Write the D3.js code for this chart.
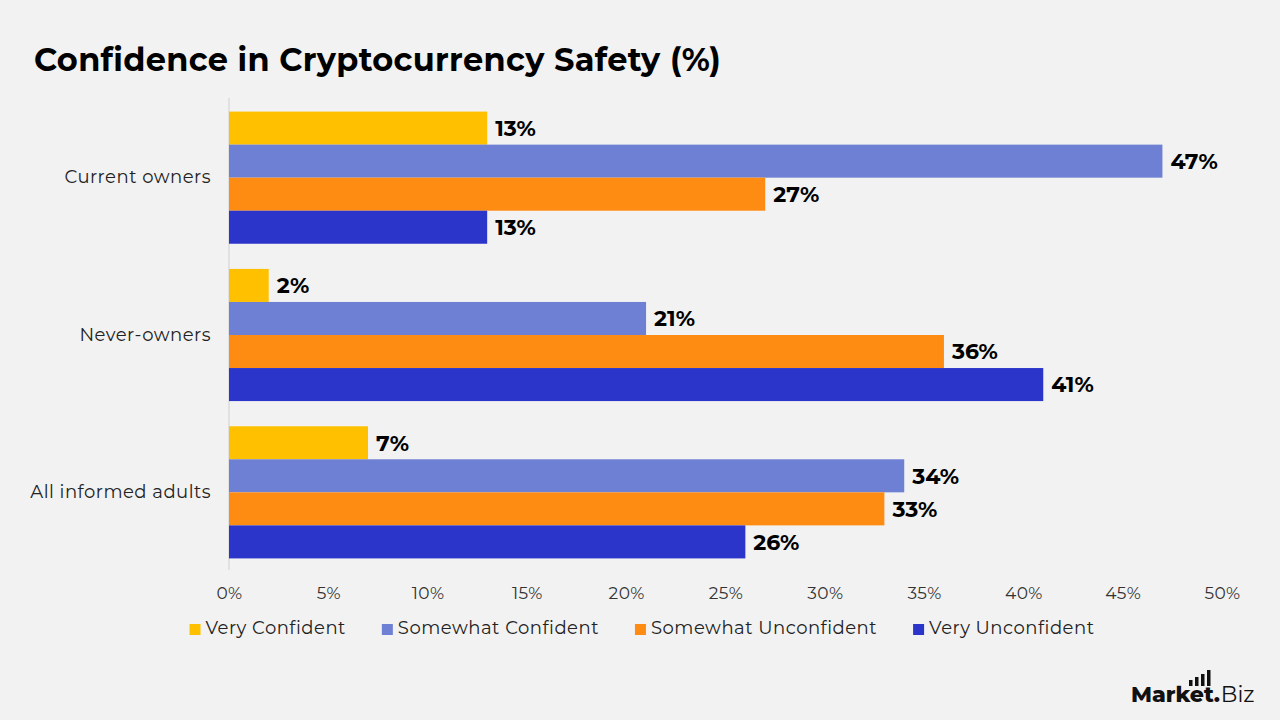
<!DOCTYPE html>
<html>
<head>
<meta charset="utf-8">
<script src="https://cdn.jsdelivr.net/npm/d3@7"></script>
<style>
  body { margin: 0; background: #f2f2f2; }
  svg { display: block; font-family: Montserrat, Inter, "Open Sans", sans-serif; }
</style>
</head>
<body>
<svg id="chart" width="1280" height="720"></svg>
<script>
// data
var categories = ["Current owners", "Never-owners", "All informed adults"];
var seriesNames = ["Very Confident", "Somewhat Confident", "Somewhat Unconfident", "Very Unconfident"];
var seriesColors = ["#FFC000", "#6E80D4", "#FF8C12", "#2C35C9"];
var veryConfident = [13, 2, 7];
var somewhatConfident = [47, 21, 34];
var somewhatUnconfident = [27, 36, 33];
var veryUnconfident = [13, 41, 26];
var xTicks = [0, 5, 10, 15, 20, 25, 30, 35, 40, 45, 50];

var values = [veryConfident, somewhatConfident, somewhatUnconfident, veryUnconfident];

var svg = d3.select("#chart");
svg.append("rect").attr("width", 1280).attr("height", 720).attr("fill", "#f2f2f2");

svg.append("text")
  .attr("x", 34).attr("y", 71)
  .attr("font-size", 32).attr("font-weight", 700).attr("fill", "#000")
  .attr("letter-spacing", 0.3)
  .text("Confidence in Cryptocurrency Safety (%)");

var x = d3.scaleLinear().domain([0, 50]).range([229, 1222]);
var y = d3.scaleBand().domain(categories).range([99, 571]).padding(0);
var yInner = d3.scaleBand().domain(seriesNames)
  .range([y.bandwidth() * 0.08, y.bandwidth() * 0.92]).padding(0);

// axis line
svg.append("line")
  .attr("x1", x(0)).attr("x2", x(0))
  .attr("y1", 98).attr("y2", 570)
  .attr("stroke", "#d0d0d0").attr("stroke-width", 1);

// x tick labels
var xAxis = d3.axisBottom(x).tickValues(xTicks).tickSize(0).tickFormat(function(d){ return d + "%"; });
var gx = svg.append("g").attr("transform", "translate(0,584)").call(xAxis);
gx.attr("font-family", null).attr("font-size", null);
gx.select(".domain").remove();
gx.selectAll("text").attr("font-size", 17).attr("letter-spacing", 0.4).attr("fill", "#333");

// category labels
var yAxis = d3.axisLeft(y).tickSize(0).tickPadding(18);
var gy = svg.append("g").attr("transform", "translate(" + x(0) + ",0)").call(yAxis);
gy.attr("font-family", null).attr("font-size", null);
gy.select(".domain").remove();
gy.selectAll("text").attr("font-size", 18).attr("letter-spacing", 0.5).attr("fill", "#222");

// bars
var groups = svg.selectAll(".grp").data(categories).enter().append("g")
  .attr("transform", function(d){ return "translate(0," + y(d) + ")"; });

groups.each(function(cat, ci){
  var g = d3.select(this);
  seriesNames.forEach(function(s, si){
    var v = values[si][ci];
    g.append("rect")
      .attr("x", x(0)).attr("y", yInner(s))
      .attr("width", x(v) - x(0)).attr("height", yInner.bandwidth())
      .attr("fill", seriesColors[si]);
    g.append("text")
      .attr("x", x(v) + 8).attr("y", yInner(s) + yInner.bandwidth() / 2)
      .attr("dy", "0.36em")
      .attr("font-size", 22).attr("font-weight", 700).attr("fill", "#000")
      .text(v + "%");
  });
});

// legend
var legend = svg.append("g");
var items = legend.selectAll("g").data(seriesNames).enter().append("g");
items.append("rect").attr("width", 11).attr("height", 11).attr("y", -10)
  .attr("fill", function(d, i){ return seriesColors[i]; });
items.append("text").attr("x", 16).attr("font-size", 18).attr("letter-spacing", 0.5).attr("fill", "#222")
  .text(function(d){ return d; });
var lx = 0;
items.each(function(){
  d3.select(this).attr("transform", "translate(" + lx + ",0)");
  lx += 16 + this.querySelector("text").getComputedTextLength() + 36;
});
lx -= 36;
legend.attr("transform", "translate(" + (642 - lx / 2) + ",634)");

// logo
var logo = svg.append("g").attr("transform", "translate(1131,702)");
var mk = logo.append("text").attr("font-size", 22).attr("font-weight", 800).attr("fill", "#111").text("Market");
var w1 = mk.node().getComputedTextLength();
logo.append("text").attr("x", w1).attr("font-size", 22).attr("font-weight", 800).attr("fill", "#111").text(".");
logo.append("text").attr("x", w1 + 7).attr("font-size", 22).attr("font-weight", 400).attr("fill", "#111").text("Biz");
[6, 9, 12, 16].forEach(function(h, i){
  logo.append("rect").attr("x", 58 + i * 6).attr("y", -16 - h).attr("width", 3.5).attr("height", h).attr("fill", "#111");
});
</script>
</body>
</html>
